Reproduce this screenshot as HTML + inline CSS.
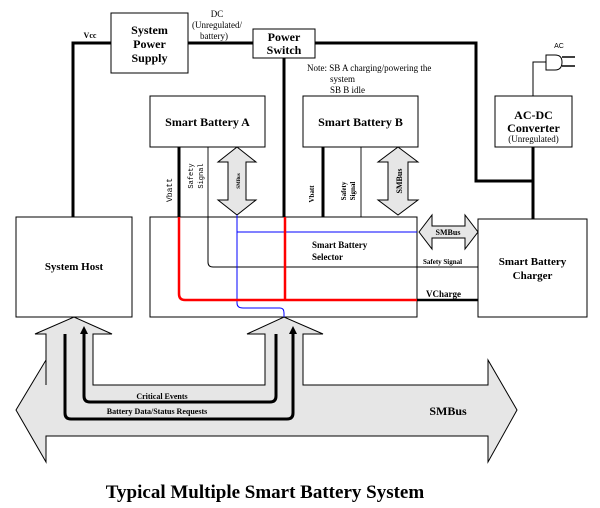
<!DOCTYPE html>
<html><head><meta charset="utf-8"><style>
html,body{margin:0;padding:0;background:#fff}
svg{display:block;font-family:"Liberation Serif",serif}
text{font-family:"Liberation Serif",serif;font-weight:bold;fill:#000}
</style></head><body>
<svg width="600" height="508" viewBox="0 0 600 508" xmlns="http://www.w3.org/2000/svg" font-family="Liberation Serif, serif">
<path d="M46,385 L46,360 L16,410 L46,462 L46,436 L488,436 L488,462 L517,410 L488,360 L488,385 L303,385 L303,334 L323,334 L284,317 L247,334 L265,334 L265,385 L93,385 L93,334 L112,334 L74,317 L35,334 L46,334 Z" fill="#e6e6e6" stroke="#000" stroke-width="1"/>
<path d="M84,331 L84,396 Q84,402 90,402 L270,402 Q276,402 276,396 L276,334" fill="none" stroke="#000" stroke-width="3"/>
<path d="M65,334 L65,413 Q65,419 71,419 L287,419 Q293,419 293,413 L293,331" fill="none" stroke="#000" stroke-width="3"/>
<polygon points="84,326 80,334 88,334" fill="#000"/>
<polygon points="293,326 289,334 297,334" fill="#000"/>
<text x="162" y="399" font-size="8" text-anchor="middle">Critical Events</text>
<text x="157" y="414" font-size="8" text-anchor="middle">Battery Data/Status Requests</text>
<text x="448" y="415" font-size="12" text-anchor="middle">SMBus</text>

<path d="M111,43 L73,43 L73,217" fill="none" stroke="#000" stroke-width="3"/>
<line x1="188" y1="43" x2="253" y2="43" stroke="#000" stroke-width="3"/>
<path d="M315,43 L476,43 L476,181 L533,181" fill="none" stroke="#000" stroke-width="3"/>
<line x1="533" y1="147" x2="533" y2="219" stroke="#000" stroke-width="3"/>
<path d="M533,96 L533,62 L546,62" fill="none" stroke="#000" stroke-width="1"/>
<path d="M546,55 L555,55 Q562,55 562,62 Q562,70 555,70 L546,70 Z" fill="#fff" stroke="#000" stroke-width="1"/>
<line x1="562" y1="57" x2="575" y2="57" stroke="#000" stroke-width="1.5"/>
<line x1="562" y1="66" x2="575" y2="66" stroke="#000" stroke-width="1.5"/>
<text x="559" y="48" font-size="7" style="font-family:'Liberation Sans',sans-serif;font-weight:normal" fill="#555" text-anchor="middle">AC</text>
<line x1="284" y1="58" x2="284" y2="217" stroke="#000" stroke-width="3"/>
<line x1="179" y1="147" x2="179" y2="217" stroke="#000" stroke-width="3"/>
<line x1="208" y1="147" x2="208" y2="217" stroke="#666" stroke-width="1.5"/>
<line x1="323" y1="147" x2="323" y2="217" stroke="#000" stroke-width="3"/>
<line x1="361" y1="147" x2="361" y2="217" stroke="#666" stroke-width="1.5"/>

<rect x="111" y="13" width="77" height="60" fill="#fff" stroke="#000"/>
<text x="149.5" y="34" font-size="12" text-anchor="middle">System</text>
<text x="149.5" y="48" font-size="12" text-anchor="middle">Power</text>
<text x="149.5" y="62" font-size="12" text-anchor="middle">Supply</text>
<text x="217" y="17" font-size="9" style="font-weight:normal" text-anchor="middle">DC</text>
<text x="217" y="28" font-size="9" style="font-weight:normal" text-anchor="middle">(Unregulated/</text>
<text x="214" y="39" font-size="9" style="font-weight:normal" text-anchor="middle">battery)</text>
<text x="90" y="38" font-size="8" text-anchor="middle">Vcc</text>
<rect x="253" y="29" width="62" height="29" fill="#fff" stroke="#000"/>
<text x="284" y="41" font-size="12" text-anchor="middle">Power</text>
<text x="284" y="54" font-size="12" text-anchor="middle">Switch</text>
<text x="307" y="71" font-size="9" style="font-weight:normal">Note: SB A charging/powering the</text>
<text x="330" y="82" font-size="9" style="font-weight:normal">system</text>
<text x="330" y="93" font-size="9" style="font-weight:normal">SB  B  idle</text>

<rect x="150" y="96" width="115" height="51" fill="#fff" stroke="#000"/>
<text x="207.5" y="126" font-size="12" text-anchor="middle">Smart Battery A</text>
<rect x="303" y="96" width="115" height="51" fill="#fff" stroke="#000"/>
<text x="360.5" y="126" font-size="12" text-anchor="middle">Smart Battery B</text>
<rect x="495" y="96" width="77" height="51" fill="#fff" stroke="#000"/>
<text x="533.5" y="119" font-size="12" text-anchor="middle">AC-DC</text>
<text x="533.5" y="132" font-size="12" text-anchor="middle">Converter</text>
<text x="533.5" y="142" font-size="9" style="font-weight:normal" text-anchor="middle">(Unregulated)</text>

<polygon points="237,147 256,162 246,162 246,200 256,200 237,215 218,200 228,200 228,162 218,162" fill="#e6e6e6" stroke="#000"/>
<text transform="translate(240,181) rotate(-90)" font-size="5" text-anchor="middle">SMBus</text>
<polygon points="398,147 418,162 408,162 408,200 418,200 398,215 378,200 388,200 388,162 378,162" fill="#e6e6e6" stroke="#000"/>
<text transform="translate(402,181) rotate(-90)" font-size="8" text-anchor="middle">SMBus</text>
<text transform="translate(172,190) rotate(-90)" font-size="8" style="font-family:'Liberation Mono',monospace;font-weight:normal" fill="#777" text-anchor="middle">Vbatt</text>
<text transform="translate(193,176) rotate(-90)" font-size="7" style="font-family:'Liberation Mono',monospace;font-weight:normal" fill="#777" text-anchor="middle">Safety</text>
<text transform="translate(203,176) rotate(-90)" font-size="7" style="font-family:'Liberation Mono',monospace;font-weight:normal" fill="#777" text-anchor="middle">Signal</text>
<text transform="translate(314,194) rotate(-90)" font-size="7" text-anchor="middle">Vbatt</text>
<text transform="translate(346,191) rotate(-90)" font-size="7" text-anchor="middle">Safety</text>
<text transform="translate(355,191) rotate(-90)" font-size="7" text-anchor="middle">Signal</text>

<rect x="16" y="217" width="116" height="100" fill="#fff" stroke="#000"/>
<text x="74" y="270" font-size="11" text-anchor="middle">System Host</text>
<rect x="150" y="217" width="267" height="100" fill="#fff" stroke="#000"/>
<rect x="478" y="219" width="109" height="98" fill="#fff" stroke="#000"/>
<text x="532.5" y="265" font-size="11" text-anchor="middle">Smart Battery</text>
<text x="532.5" y="279" font-size="11" text-anchor="middle">Charger</text>

<path d="M208,217 L208,262 Q208,267 213,267 L478,267" fill="none" stroke="#000" stroke-width="1"/>
<path d="M237,215 L237,303 Q237,308 243,308 L280,308 Q284,308 284,313 L284,317" fill="none" stroke="#00f" stroke-width="1"/>
<line x1="237" y1="232" x2="417" y2="232" stroke="#00f" stroke-width="1"/>
<path d="M179,217 L179,294 Q179,300 185,300 L417,300" fill="none" stroke="#f00" stroke-width="2.5"/>
<line x1="285" y1="217" x2="285" y2="300" stroke="#f00" stroke-width="2.5"/>
<line x1="417" y1="300" x2="478" y2="300" stroke="#000" stroke-width="2.5"/>
<text x="312" y="248" font-size="9">Smart Battery</text>
<text x="312" y="260" font-size="9">Selector</text>
<text x="423" y="264" font-size="7">Safety Signal</text>
<text x="426" y="297" font-size="9">VCharge</text>
<polygon points="419,232 432,215 432,226 465,226 465,215 478,232 465,249 465,238 432,238 432,249" fill="#e6e6e6" stroke="#000"/>
<text x="448" y="235" font-size="8" text-anchor="middle">SMBus</text>

<text x="265" y="498" font-size="19" text-anchor="middle">Typical Multiple Smart Battery System</text>
</svg>
</body></html>
